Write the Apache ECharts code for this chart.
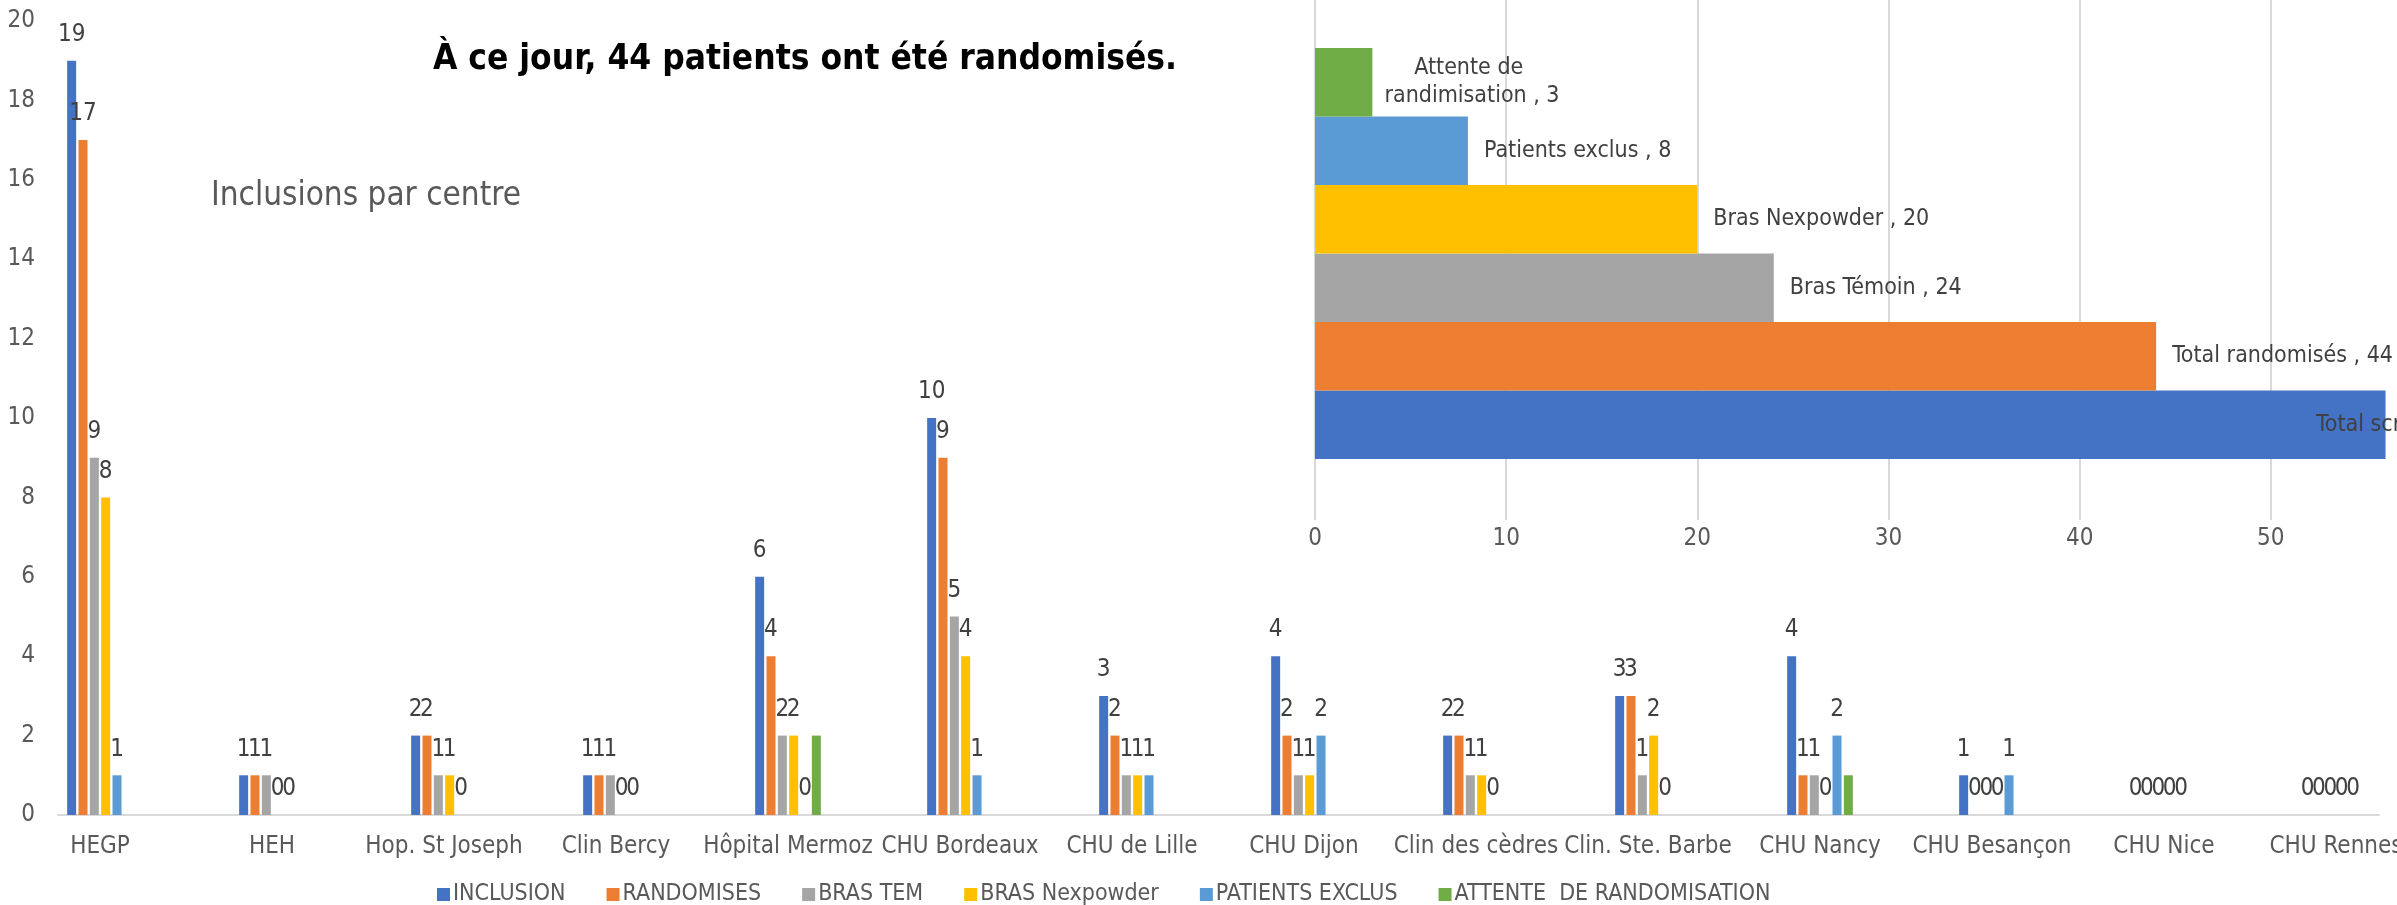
<!DOCTYPE html>
<html>
<head>
<meta charset="utf-8">
<title>Inclusions par centre</title>
<script src="https://cdn.jsdelivr.net/npm/echarts@6/dist/echarts.min.js"></script>
<style>
  html, body { margin: 0; padding: 0; background: #fff; }
  #chart { width: 2397px; height: 905px; }
</style>
</head>
<body>
<div id="chart"></div>
<script>
// centres d'inclusion
const centres = ['HEGP', 'HEH', 'Hop. St Joseph', 'Clin Bercy', 'Hôpital Mermoz', 'CHU Bordeaux', 'CHU de Lille',
  'CHU Dijon', 'Clin des cèdres', 'Clin. Ste. Barbe', 'CHU Nancy', 'CHU Besançon', 'CHU Nice', 'CHU Rennes'];
const inclusion  = [19, 1, 2, 1, 6, 10, 3, 4, 2, 3, 4, 1, 0, 0];
const randomises = [17, 1, 2, 1, 4, 9, 2, 2, 2, 3, 1, 0, 0, 0];
const brasTem    = [9, 1, 1, 1, 2, 5, 1, 1, 1, 1, 1, 0, 0, 0];
const brasNex    = [8, 0, 1, 0, 2, 4, 1, 1, 1, 2, 0, 0, 0, 0];
const exclus     = [1, 0, 0, 0, 0, 1, 1, 2, 0, 0, 2, 1, 0, 0];
const attente    = [null, null, null, null, 2, null, null, null, null, null, 1, null, null, null];
const yTicks = [0, 20, 2]; // min, max, pas

// petit graphe de synthese (de bas en haut)
const flowNames  = ['Total screening', 'Total randomisés', 'Bras Témoin', 'Bras Nexpowder', 'Patients exclus', 'Attente de randimisation'];
const flowValues = [56, 44, 24, 20, 8, 3];
const flowTicks  = [0, 60, 10];

const colors = ['#4472C4', '#ED7D31', '#A5A5A5', '#FFC000', '#5B9BD5', '#70AD47'];
const FONT = "'Liberation Sans Narrow', 'DejaVu Sans Condensed', 'Open Sans', sans-serif";

let chart = echarts.init(document.getElementById('chart'));

// séries du graphe principal
let seriesArr = [];
[
  { name: 'INCLUSION', data: inclusion, label: true },
  { name: 'RANDOMISES', data: randomises, label: true },
  { name: 'BRAS TEM', data: brasTem, label: true },
  { name: 'BRAS Nexpowder', data: brasNex, label: true },
  { name: 'PATIENTS EXCLUS', data: exclus, label: true },
  { name: 'ATTENTE  DE RANDOMISATION', data: attente, label: false }
].forEach((item, i) => {
  seriesArr.push({
    name: item.name,
    type: 'bar',
    xAxisIndex: 0,
    yAxisIndex: 0,
    barWidth: 9,
    barGap: '26%',
    itemStyle: { color: colors[i] },
    label: {
      show: item.label,
      position: 'top',
      distance: 14,
      fontFamily: FONT,
      fontSize: 24,
      color: '#404040'
    },
    data: item.data
  });
});

// barre horizontale du résumé
seriesArr.push({
  name: 'résumé',
  type: 'bar',
  xAxisIndex: 3,
  yAxisIndex: 3,
  barCategoryGap: 0,
  label: {
    show: true,
    position: 'right',
    distance: 16,
    formatter: '{b} , {c}',
    fontFamily: FONT,
    fontSize: 23,
    color: '#404040'
  },
  data: flowValues.map((v, i) => {
    let d = { value: v, itemStyle: { color: colors[i] } };
    if (i === 0) {
      // l'étiquette déborde, Excel la met dans la barre
      d.label = { position: [1001, '50%'], align: 'left', verticalAlign: 'middle' };
    }
    if (i === 5) {
      d.label = {
        position: [157, '50%'], align: 'center', verticalAlign: 'middle',
        width: 210, overflow: 'break', lineHeight: 28
      };
    }
    return d;
  })
});

const option = {
  animation: false,
  backgroundColor: '#fff',
  textStyle: { fontFamily: FONT },
  title: [
    {
      text: 'À ce jour, 44 patients ont été randomisés.',
      left: 433, top: 42, padding: 0,
      textStyle: { fontFamily: FONT, fontSize: 35, fontWeight: 'bold', color: '#000' }
    },
    {
      text: 'Inclusions par centre',
      left: 211, top: 180, padding: 0,
      textStyle: { fontFamily: FONT, fontSize: 33, fontWeight: 'normal', color: '#595959' }
    }
  ],
  legend: {
    left: 432,
    top: 878,
    itemWidth: 13,
    itemHeight: 13,
    itemGap: 41,
    icon: 'rect',
    data: seriesArr.slice(0, 6).map(s => s.name),
    textStyle: { fontFamily: FONT, fontSize: 23, color: '#595959', padding: [0, 0, 0, -2] }
  },
  grid: [
    { left: 14, width: 2408, top: 21, bottom: 90, outerBoundsMode: 'none' },  // graphe principal
    { left: 58, right: 18, top: 21, bottom: 90, outerBoundsMode: 'none' },    // ligne de base
    { left: 1315, width: 1147, top: 0, height: 520, outerBoundsMode: 'none' }, // quadrillage du résumé
    { left: 1315, width: 1147, top: 48, height: 411, outerBoundsMode: 'none' } // barres du résumé
  ],
  xAxis: [
    {
      gridIndex: 0,
      type: 'category',
      data: centres,
      axisLine: { show: false },
      axisTick: { show: false },
      axisLabel: { interval: 0, margin: 20, fontFamily: FONT, fontSize: 24, color: '#595959' }
    },
    {
      gridIndex: 1,
      type: 'value',
      min: 0, max: 1,
      axisLine: { show: true, lineStyle: { color: '#D9D9D9', width: 2 } },
      axisTick: { show: false },
      axisLabel: { show: false },
      splitLine: { show: false }
    },
    {
      gridIndex: 2,
      type: 'value',
      min: flowTicks[0], max: flowTicks[1], interval: flowTicks[2],
      axisLine: { show: false },
      axisTick: { show: false },
      axisLabel: { margin: 7, fontFamily: FONT, fontSize: 24, color: '#595959' },
      splitLine: { show: true, lineStyle: { color: '#D9D9D9', width: 2 } }
    },
    {
      gridIndex: 3,
      type: 'value',
      min: flowTicks[0], max: flowTicks[1],
      show: false
    }
  ],
  yAxis: [
    {
      gridIndex: 0,
      type: 'value',
      min: yTicks[0], max: yTicks[1], interval: yTicks[2],
      axisLine: { show: false },
      axisTick: { show: false },
      splitLine: { show: false },
      axisLabel: { inside: true, align: 'right', margin: 21, fontFamily: FONT, fontSize: 24, color: '#595959' }
    },
    { gridIndex: 1, type: 'value', show: false },
    { gridIndex: 2, type: 'value', show: false },
    {
      gridIndex: 3,
      type: 'category',
      data: flowNames,
      show: false
    }
  ],
  series: seriesArr
};

chart.setOption(option);
</script>
</body>
</html>
